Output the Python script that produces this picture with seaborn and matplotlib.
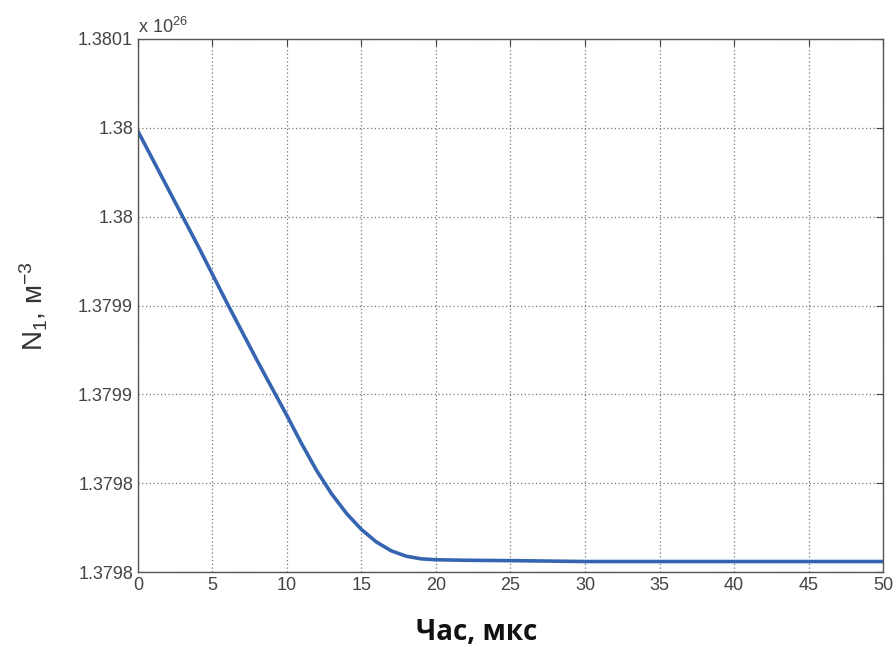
import matplotlib
matplotlib.use("Agg")
import matplotlib.pyplot as plt
import seaborn as sns
import pandas as pd

# time, microseconds
time_us = [0, 2, 4, 6, 8, 10, 11, 12, 13, 14, 15, 16, 17, 18, 19, 20, 22, 25, 30, 40, 50]
# N1 in units of 1e26 m^-3
n1_e26 = [1.379998, 1.379966, 1.379934, 1.379901, 1.379869, 1.379838, 1.379822,
          1.379807, 1.379794, 1.379783, 1.379774, 1.379767, 1.379762, 1.379759,
          1.3797575, 1.379757, 1.3797567, 1.3797565, 1.379756, 1.379756, 1.379756]

xticks = [0, 5, 10, 15, 20, 25, 30, 35, 40, 45, 50]
yticks = [1.37975, 1.37980, 1.37985, 1.37990, 1.37995, 1.38000, 1.38005]
ytick_labels = ["1.3798", "1.3798", "1.3799", "1.3799", "1.38", "1.38", "1.3801"]

sns.set_style("white")
plt.rcParams['font.family'] = ['Liberation Sans', 'DejaVu Sans']
plt.rcParams['mathtext.fontset'] = 'custom'
plt.rcParams['mathtext.rm'] = 'Liberation Sans'
plt.rcParams['mathtext.it'] = 'Liberation Sans'
plt.rcParams['mathtext.bf'] = 'Liberation Sans:bold'

df = pd.DataFrame({"t": time_us, "n": n1_e26})

fig = plt.figure(figsize=(8.96, 6.48), dpi=100)
ax = fig.add_axes([0.154, 0.117, 0.8315, 0.823])
sns.lineplot(data=df, x="t", y="n", ax=ax, color="#3565b0", linewidth=2.6)

ax.set_xlim(0, 50)
ax.set_ylim(1.37975, 1.38005)
ax.set_xticks(xticks)
ax.set_yticks(yticks, labels=ytick_labels)
ax.grid(True, linestyle=(0, (1, 2)), color="#777777", linewidth=0.9)
ax.tick_params(direction="in", length=5, colors="#444444", labelsize=13,
               top=True, right=True, labelcolor="#444444")
for s in ax.spines.values():
    s.set_color("#555555")
    s.set_linewidth(1.0)

ax.set_xlabel("Час, мкс", fontsize=20, fontweight="bold", color="#111111",
              family=["Open Sans", "DejaVu Sans"])
ax.xaxis.set_label_coords(0.455, -0.085)
ax.set_ylabel("N$_\\mathregular{1}$, м$^\\mathregular{-3}$", fontsize=20,
              color="#333333", labelpad=20)
ax.text(0.0, 1.003, "x 10$^\\mathregular{26}$", transform=ax.transAxes, fontsize=13,
        color="#444444", ha="left", va="bottom")

fig.savefig("out.png", dpi=100, facecolor="white")
